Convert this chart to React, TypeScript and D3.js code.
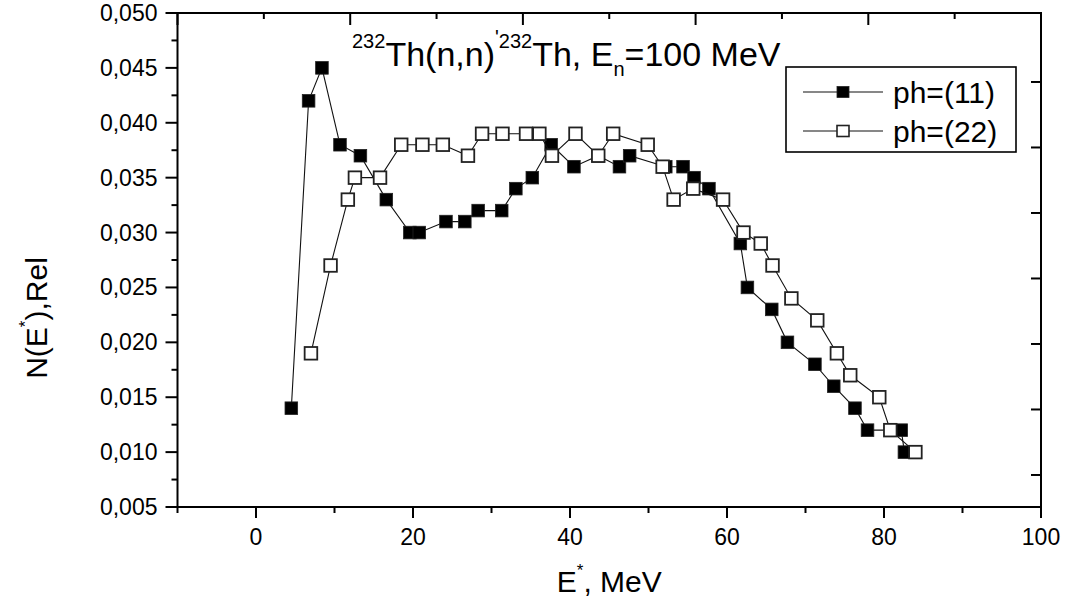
import React from "react";
import * as d3 from "d3";

const W = 1069;
const H = 606;

// x ticks (E*, MeV) and y ticks (N(E*), Rel)
const xMajorTicks = [0, 20, 40, 60, 80, 100];
const xMinorTicks = [-10, 10, 30, 50, 70, 90];
const yMajorTicks = [0.005, 0.01, 0.015, 0.02, 0.025, 0.03, 0.035, 0.04, 0.045, 0.05];
const yMinorTicks = [0.0075, 0.0125, 0.0175, 0.0225, 0.0275, 0.0325, 0.0375, 0.0425, 0.0475];
const topMajorTicks = [0, 20, 40, 60, 80, 100];
const topMinorTicks = [10, 30, 50, 70, 90];
const rightTicks = [1, 2, 3, 4, 5, 6, 7];

// series ph=(11) (filled squares)
const ph11E = [4.5, 6.7, 8.4, 10.7, 13.3, 16.6, 19.6, 20.8, 24.2, 26.6, 28.3, 31.3, 33.1, 35.2, 37.6, 40.5, 43.6, 46.3, 47.6, 52.2, 54.4, 55.8, 57.7, 61.7, 62.6, 65.7, 67.7, 71.2, 73.6, 76.3, 77.9, 82.2, 82.6];
const ph11N = [0.014, 0.042, 0.045, 0.038, 0.037, 0.033, 0.030, 0.030, 0.031, 0.031, 0.032, 0.032, 0.034, 0.035, 0.038, 0.036, 0.037, 0.036, 0.037, 0.036, 0.036, 0.035, 0.034, 0.029, 0.025, 0.023, 0.020, 0.018, 0.016, 0.014, 0.012, 0.012, 0.010];

// series ph=(22) (open squares)
const ph22E = [7.0, 9.5, 11.7, 12.6, 15.8, 18.5, 21.2, 23.8, 27.0, 28.8, 31.4, 34.4, 36.1, 37.7, 40.7, 43.6, 45.5, 49.9, 51.8, 53.2, 55.7, 59.5, 62.1, 64.3, 65.8, 68.2, 71.5, 74.0, 75.7, 79.4, 80.8, 84.0];
const ph22N = [0.019, 0.027, 0.033, 0.035, 0.035, 0.038, 0.038, 0.038, 0.037, 0.039, 0.039, 0.039, 0.039, 0.037, 0.039, 0.037, 0.039, 0.038, 0.036, 0.033, 0.034, 0.033, 0.030, 0.029, 0.027, 0.024, 0.022, 0.019, 0.017, 0.015, 0.012, 0.010];

const seriesNames = ["ph=(11)", "ph=(22)"];

const FONT = "'Liberation Sans', Arial, Helvetica, sans-serif";

export default function App() {
  const x0 = 177.5, x1 = 1041, y0 = 13, y1 = 507;
  const x = d3.scaleLinear().domain([-10, 100]).range([x0, x1]);
  const y = d3.scaleLinear().domain([0.005, 0.05]).range([y1, y0]);
  const xTop = d3.scaleLinear().domain([0, 100]).range([x0, x1]);
  const yRight = d3.scaleLinear().domain([0.511, 8.053]).range([y1, y0]);

  const line = d3
    .line<[number, number]>()
    .x((d) => x(d[0]))
    .y((d) => y(d[1]));

  const s11: [number, number][] = ph11E.map((e, i) => [e, ph11N[i]]);
  const s22: [number, number][] = ph22E.map((e, i) => [e, ph22N[i]]);
  const ms = 12.6;

  const fmt = (v: number) => v.toFixed(3).replace(".", ",");

  return (
    <svg
      width={W}
      height={H}
      style={{ position: "absolute", left: 0, top: 0, background: "#fff" }}
      fontFamily={FONT}
    >
      <rect x={0} y={0} width={W} height={H} fill="#fff" />

      {/* series ph=(11) */}
      <path d={line(s11) || ""} fill="none" stroke="#111" strokeWidth={1.1} />
      {s11.map((d, i) => (
        <rect
          key={"a" + i}
          x={x(d[0]) - ms / 2}
          y={y(d[1]) - ms / 2}
          width={ms}
          height={ms}
          fill="#000"
          stroke="#222"
          strokeWidth={0.8}
        />
      ))}

      {/* series ph=(22) */}
      <path d={line(s22) || ""} fill="none" stroke="#111" strokeWidth={1.1} />
      {s22.map((d, i) => (
        <rect
          key={"b" + i}
          x={x(d[0]) - ms / 2}
          y={y(d[1]) - ms / 2}
          width={ms}
          height={ms}
          fill="#fff"
          stroke="#222"
          strokeWidth={1.8}
        />
      ))}

      {/* frame */}
      <rect x={x0} y={y0} width={x1 - x0} height={y1 - y0} fill="none" stroke="#000" strokeWidth={2} />

      {/* bottom axis ticks */}
      {xMajorTicks.map((t) => (
        <g key={"xm" + t}>
          <line x1={x(t)} x2={x(t)} y1={y1} y2={y1 + 11} stroke="#000" strokeWidth={2} />
          <text x={x(t)} y={y1 + 38} fontSize={23} textAnchor="middle">
            {t}
          </text>
        </g>
      ))}
      {xMinorTicks.map((t) => (
        <line key={"xn" + t} x1={x(t)} x2={x(t)} y1={y1} y2={y1 + 6} stroke="#000" strokeWidth={2} />
      ))}

      {/* left axis ticks */}
      {yMajorTicks.map((t) => (
        <g key={"ym" + t}>
          <line x1={x0 - 12} x2={x0} y1={y(t)} y2={y(t)} stroke="#000" strokeWidth={2} />
          <text x={x0 - 20} y={y(t) + 8} fontSize={23} textAnchor="end">
            {fmt(t)}
          </text>
        </g>
      ))}
      {yMinorTicks.map((t) => (
        <line key={"yn" + t} x1={x0 - 6} x2={x0} y1={y(t)} y2={y(t)} stroke="#000" strokeWidth={2} />
      ))}

      {/* top axis ticks (inward) */}
      {topMajorTicks.map((t) => (
        <line key={"tm" + t} x1={xTop(t)} x2={xTop(t)} y1={y0} y2={y0 + 12} stroke="#000" strokeWidth={2} />
      ))}
      {topMinorTicks.map((t) => (
        <line key={"tn" + t} x1={xTop(t)} x2={xTop(t)} y1={y0} y2={y0 + 6} stroke="#000" strokeWidth={2} />
      ))}

      {/* right axis ticks (inward) */}
      {rightTicks.map((t) => (
        <line key={"r" + t} x1={x1 - 10} x2={x1} y1={yRight(t)} y2={yRight(t)} stroke="#000" strokeWidth={2} />
      ))}

      {/* title */}
      <text x={352} y={66} fontSize={34}>
        <tspan fontSize={20} dy={-18}>232</tspan>
        <tspan dy={18}>Th(n,n)</tspan>
        <tspan fontSize={20} dy={-22}>'</tspan>
        <tspan fontSize={20} dy={4}>232</tspan>
        <tspan dy={18}>Th, E</tspan>
        <tspan fontSize={20} dy={10}>n</tspan>
        <tspan dy={-10}>=100 MeV</tspan>
      </text>

      {/* legend */}
      <rect x={786} y={67} width={230} height={85} fill="#fff" stroke="#000" strokeWidth={1.6} />
      {seriesNames.map((name, i) => {
        const cy = 92 + i * 39;
        return (
          <g key={name}>
            <line x1={803} x2={883} y1={cy} y2={cy} stroke="#111" strokeWidth={1.1} />
            <rect
              x={843 - 6}
              y={cy - 5.5}
              width={12}
              height={11}
              fill={i === 0 ? "#000" : "#fff"}
              stroke="#222"
              strokeWidth={i === 0 ? 0.8 : 1.6}
            />
            <text x={893} y={cy + 11} fontSize={30}>
              {name}
            </text>
          </g>
        );
      })}

      {/* x axis title */}
      <text x={(x0 + x1) / 2} y={592} fontSize={30} textAnchor="middle">
        <tspan>E</tspan>
        <tspan fontSize={17} dy={-16}>*</tspan>
        <tspan dy={16}>, MeV</tspan>
      </text>

      {/* y axis title */}
      <text
        transform={`translate(47, ${318}) rotate(-90)`}
        fontSize={30}
        textAnchor="middle"
      >
        <tspan>N(E</tspan>
        <tspan fontSize={17} dy={-16}>*</tspan>
        <tspan dy={16}>),Rel</tspan>
      </text>
    </svg>
  );
}
